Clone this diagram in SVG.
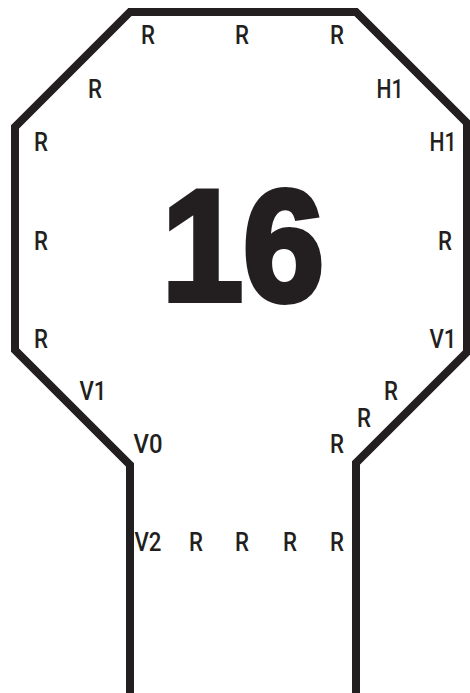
<svg xmlns="http://www.w3.org/2000/svg" width="470" height="693" viewBox="0 0 470 693">
<style>
.o{fill:none;stroke:#231f20;stroke-width:8;stroke-linejoin:miter}
.l{font-family:Roboto,"Liberation Sans",sans-serif;font-weight:500;font-size:26px;fill:#231f20;text-anchor:middle}
.big{font-family:"Liberation Sans","Arial",sans-serif;font-weight:bold;font-size:158px;fill:#231f20;stroke:#231f20;stroke-width:6;stroke-linejoin:miter}
</style>
<rect width="470" height="693" fill="#fff"/>
<g id="outline">
<path class="o" d="M130,693 V465 L15,350 V127 L130,12 H356 L467,123 V352 L356,463 V693"/>
</g>
<g id="number"><text class="big" x="162" y="300" textLength="162" lengthAdjust="spacingAndGlyphs">16</text></g>
<g id="labels" class="l">
<text x="148" y="44" textLength="14" lengthAdjust="spacingAndGlyphs">R</text>
<text x="242" y="44" textLength="14" lengthAdjust="spacingAndGlyphs">R</text>
<text x="337" y="44" textLength="14" lengthAdjust="spacingAndGlyphs">R</text>
<text x="95" y="98" textLength="14" lengthAdjust="spacingAndGlyphs">R</text>
<text x="390" y="98" textLength="27" lengthAdjust="spacingAndGlyphs">H1</text>
<text x="41" y="151" textLength="14" lengthAdjust="spacingAndGlyphs">R</text>
<text x="443" y="151" textLength="27" lengthAdjust="spacingAndGlyphs">H1</text>
<text x="41" y="250" textLength="14" lengthAdjust="spacingAndGlyphs">R</text>
<text x="445" y="250" textLength="14" lengthAdjust="spacingAndGlyphs">R</text>
<text x="41" y="348" textLength="14" lengthAdjust="spacingAndGlyphs">R</text>
<text x="443" y="348" textLength="27" lengthAdjust="spacingAndGlyphs">V1</text>
<text x="93" y="400" textLength="27" lengthAdjust="spacingAndGlyphs">V1</text>
<text x="391" y="400" textLength="14" lengthAdjust="spacingAndGlyphs">R</text>
<text x="364" y="427" textLength="14" lengthAdjust="spacingAndGlyphs">R</text>
<text x="148" y="453" textLength="29" lengthAdjust="spacingAndGlyphs">V0</text>
<text x="337" y="453" textLength="14" lengthAdjust="spacingAndGlyphs">R</text>
<text x="148" y="551" textLength="27" lengthAdjust="spacingAndGlyphs">V2</text>
<text x="196" y="551" textLength="14" lengthAdjust="spacingAndGlyphs">R</text>
<text x="242" y="551" textLength="14" lengthAdjust="spacingAndGlyphs">R</text>
<text x="290" y="551" textLength="14" lengthAdjust="spacingAndGlyphs">R</text>
<text x="337" y="551" textLength="14" lengthAdjust="spacingAndGlyphs">R</text>
</g>
</svg>
